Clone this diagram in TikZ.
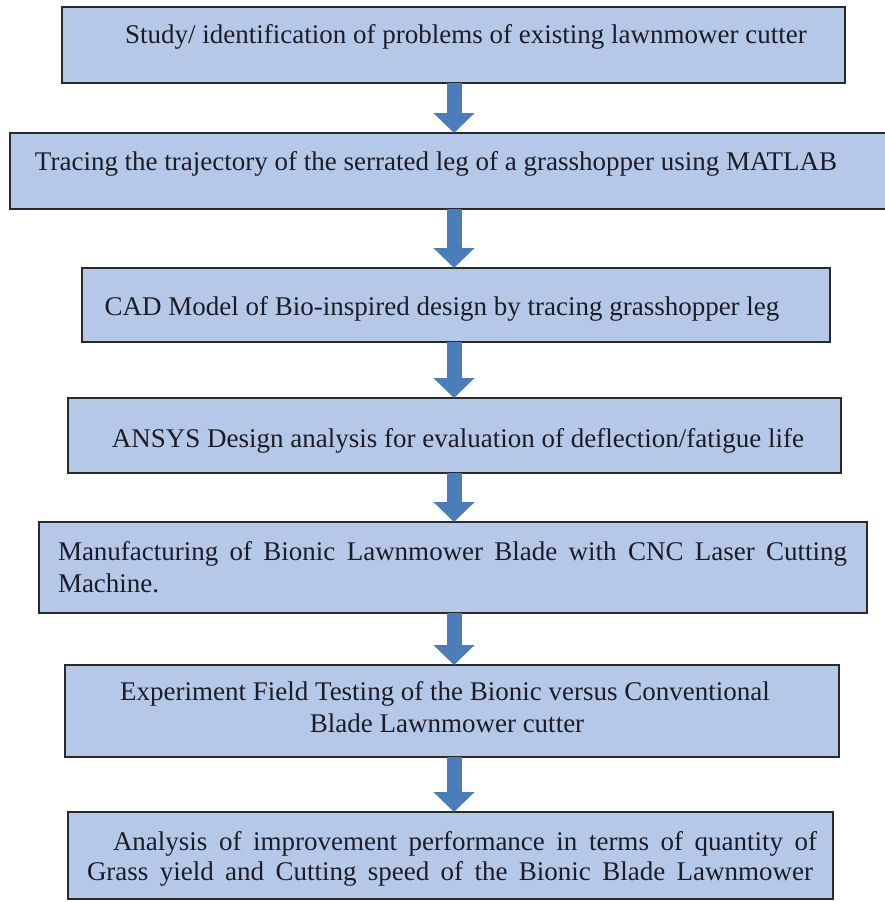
\documentclass[tikz,border=0pt]{standalone}
\usepackage{fontspec}
\setmainfont{Liberation Serif}
\usetikzlibrary{arrows.meta}
\definecolor{boxfill}{HTML}{B6C8E7}
\definecolor{boxline}{HTML}{2A2A2A}
\definecolor{arrowblue}{HTML}{4A7DBA}
\definecolor{txt}{HTML}{1C1C28}
\begin{document}
\begin{tikzpicture}[x=1pt,y=-1pt,
  stepbox/.style={draw=boxline, fill=boxfill, line width=2pt, inner sep=0pt, outer sep=0pt, rectangle},
  lbl/.style={inner sep=0pt, outer sep=0pt, text=txt, font=\fontsize{27}{32}\selectfont},
  flow/.style={draw=arrowblue, line width=15pt, -{Triangle[width=40pt,length=20pt]}}
]
\useasboundingbox (0,0) rectangle (884,902);

% boxes
\node[stepbox, minimum width=783pt, minimum height=76pt] (b1) at (453.5,45) {};
\node[stepbox, minimum width=876pt, minimum height=76pt] (b2) at (448,171) {};
\node[stepbox, minimum width=748pt, minimum height=74pt] (b3) at (456,305) {};
\node[stepbox, minimum width=773pt, minimum height=75pt] (b4) at (454.5,435.5) {};
\node[stepbox, minimum width=828pt, minimum height=91pt] (b5) at (453,567.5) {};
\node[stepbox, minimum width=774pt, minimum height=92pt] (b6) at (452,711) {};
\node[stepbox, minimum width=765pt, minimum height=87pt] (b7) at (450.5,855.5) {};

% texts
\node[lbl, anchor=base] (t1) at (466,43) {Study/ identification of problems of existing lawnmower cutter};
\node[lbl, anchor=base] (t2) at (436,170) {Tracing the trajectory of the serrated leg of a grasshopper using MATLAB};
\node[lbl, anchor=base] (t3) at (442,315) {CAD Model of Bio-inspired design by tracing grasshopper leg};
\node[lbl, anchor=base] (t4) at (458,447) {ANSYS Design analysis for evaluation of deflection/fatigue life};
\node[lbl, anchor=base west] (t5a) at (58,560) {\makebox[789pt][s]{Manufacturing of Bionic Lawnmower Blade with CNC Laser Cutting}};
\node[lbl, anchor=base west] (t5b) at (58,592) {Machine.};
\node[lbl, anchor=base] (t6a) at (445,700) {Experiment Field Testing of the Bionic versus Conventional};
\node[lbl, anchor=base] (t6b) at (447,732) {Blade Lawnmower cutter};
\node[lbl, anchor=base west] (t7a) at (113,850) {\makebox[704pt][s]{Analysis of improvement performance in terms of quantity of}};
\node[lbl, anchor=base west] (t7b) at (87,880) {\makebox[726pt][s]{Grass yield and Cutting speed of the Bionic Blade Lawnmower}};

% arrows
\coordinate (ax) at (454,0);
\draw[flow] (b1.south -| ax) -- (b2.north -| ax);
\draw[flow] (b2.south -| ax) -- (b3.north -| ax);
\draw[flow] (b3.south -| ax) -- (b4.north -| ax);
\draw[flow] (b4.south -| ax) -- (b5.north -| ax);
\draw[flow] (b5.south -| ax) -- (b6.north -| ax);
\draw[flow] (b6.south -| ax) -- (b7.north -| ax);
\end{tikzpicture}
\end{document}
